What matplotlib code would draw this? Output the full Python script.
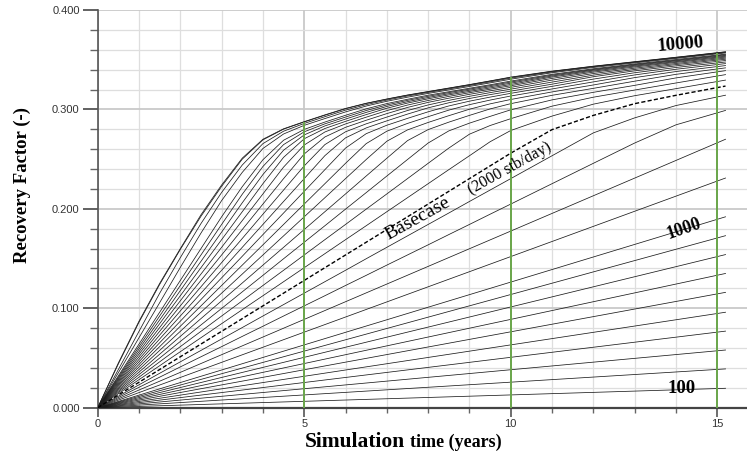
import numpy as np
import matplotlib.pyplot as plt
from matplotlib.ticker import MultipleLocator, FormatStrFormatter

# time grid (years) for the curved family
years = [0, 0.5, 1, 1.5, 2, 2.5, 3, 3.5, 4, 4.5, 5, 5.5, 6, 6.5, 7, 7.5, 8, 8.5, 9, 9.5,
         10, 11, 12, 13, 14, 15.2]

# low rates (stb/day) plot as straight lines: RF at start and at the end of the run
low_rates = [100, 200, 300, 400, 500, 600, 700, 800, 900, 1000, 1200, 1400]
low_years = [0, 15.2]
low_end_rf = [0.0195, 0.039, 0.058, 0.077, 0.096, 0.116, 0.135, 0.154, 0.173, 0.192, 0.231, 0.270]

# recovery factor, one list per rate
rf_1600 = [0, .0102, .0205, .0307, .0410, .0512, .0614, .0717, .0819, .0922, .1024, .1126, .1229, .1331, .1434, .1536, .1638, .1741, .1843, .1946, .2048, .2253, .2458, .2662, .2845, .2990]
rf_1800 = [0, .0115, .0230, .0346, .0461, .0576, .0691, .0806, .0922, .1037, .1152, .1267, .1382, .1498, .1613, .1728, .1843, .1958, .2074, .2189, .2304, .2534, .2764, .2915, .3039, .3143]
rf_2000 = [0, .0128, .0256, .0384, .0512, .0640, .0768, .0896, .1024, .1152, .1280, .1408, .1536, .1664, .1792, .1920, .2048, .2176, .2304, .2432, .2560, .2797, .2940, .3058, .3142, .3235]
rf_2200 = [0, .0141, .0282, .0422, .0563, .0704, .0845, .0986, .1126, .1267, .1408, .1549, .1690, .1830, .1971, .2112, .2253, .2394, .2534, .2675, .2788, .2933, .3053, .3138, .3209, .3295]
rf_2400 = [0, .0154, .0307, .0461, .0614, .0768, .0922, .1075, .1229, .1382, .1536, .1690, .1843, .1997, .2150, .2304, .2458, .2611, .2751, .2838, .2907, .3033, .3123, .3195, .3266, .3350]
rf_2600 = [0, .0166, .0333, .0499, .0666, .0832, .0998, .1165, .1331, .1498, .1664, .1830, .1997, .2163, .2330, .2496, .2662, .2784, .2862, .2930, .2996, .3096, .3172, .3242, .3317, .3390]
rf_2800 = [0, .0179, .0358, .0538, .0717, .0896, .1075, .1254, .1434, .1613, .1792, .1971, .2150, .2330, .2509, .2686, .2797, .2872, .2940, .3005, .3058, .3142, .3212, .3284, .3353, .3418]
rf_3000 = [0, .0192, .0384, .0576, .0768, .0960, .1152, .1344, .1536, .1728, .1920, .2112, .2304, .2496, .2680, .2794, .2869, .2937, .3002, .3056, .3100, .3176, .3246, .3320, .3381, .3441]
rf_3200 = [0, .0205, .0410, .0614, .0819, .1024, .1229, .1434, .1638, .1843, .2048, .2253, .2458, .2656, .2781, .2859, .2927, .2993, .3048, .3094, .3135, .3206, .3277, .3347, .3404, .3461]
rf_3400 = [0, .0218, .0435, .0653, .0870, .1088, .1306, .1523, .1741, .1958, .2176, .2394, .2611, .2756, .2841, .2910, .2976, .3035, .3083, .3124, .3162, .3232, .3305, .3369, .3422, .3477]
rf_3600 = [0, .0230, .0461, .0691, .0922, .1152, .1382, .1613, .1843, .2074, .2304, .2535, .2714, .2814, .2885, .2953, .3016, .3067, .3110, .3149, .3184, .3254, .3329, .3388, .3438, .3492]
rf_3800 = [0, .0243, .0486, .0730, .0973, .1216, .1459, .1702, .1946, .2189, .2432, .2646, .2775, .2855, .2923, .2989, .3045, .3091, .3132, .3169, .3204, .3275, .3345, .3402, .3451, .3505]
rf_4000 = [0, .0256, .0512, .0768, .1024, .1280, .1536, .1792, .2048, .2304, .2552, .2723, .2820, .2891, .2958, .3020, .3071, .3113, .3152, .3187, .3222, .3295, .3361, .3415, .3462, .3516]
rf_4200 = [0, .0269, .0538, .0806, .1075, .1344, .1613, .1882, .2150, .2420, .2642, .2773, .2854, .2922, .2988, .3044, .3090, .3131, .3168, .3203, .3238, .3312, .3375, .3427, .3473, .3526]
rf_4400 = [0, .0282, .0563, .0845, .1126, .1408, .1690, .1971, .2253, .2518, .2705, .2808, .2880, .2948, .3012, .3064, .3107, .3146, .3181, .3216, .3251, .3326, .3386, .3436, .3481, .3535]
rf_4600 = [0, .0294, .0589, .0883, .1178, .1472, .1766, .2061, .2345, .2590, .2744, .2834, .2903, .2970, .3030, .3078, .3120, .3158, .3193, .3228, .3264, .3336, .3395, .3444, .3489, .3543]
rf_4800 = [0, .0307, .0614, .0922, .1229, .1536, .1843, .2147, .2426, .2646, .2775, .2855, .2923, .2989, .3045, .3091, .3132, .3169, .3204, .3239, .3275, .3345, .3402, .3451, .3495, .3550]
rf_5000 = [0, .0320, .0640, .0960, .1280, .1600, .1920, .2223, .2494, .2690, .2799, .2873, .2941, .3006, .3059, .3102, .3143, .3178, .3213, .3248, .3285, .3353, .3409, .3457, .3502, .3556]
rf_5500 = [0, .0352, .0704, .1056, .1411, .1756, .2083, .2367, .2607, .2753, .2840, .2908, .2975, .3034, .3082, .3123, .3161, .3196, .3231, .3267, .3304, .3369, .3422, .3468, .3513, .3568]
rf_6000 = [0, .0384, .0768, .1151, .1509, .1852, .2165, .2441, .2656, .2781, .2859, .2927, .2993, .3048, .3094, .3135, .3171, .3206, .3241, .3277, .3315, .3377, .3429, .3475, .3518, .3574]
rf_7000 = [0, .0440, .0860, .1240, .1592, .1925, .2226, .2500, .2694, .2802, .2874, .2942, .3007, .3060, .3103, .3143, .3178, .3213, .3248, .3285, .3322, .3383, .3433, .3478, .3523, .3578]
rf_10000 = [0, .0450, .0870, .1250, .1600, .1940, .2240, .2510, .2700, .2805, .2877, .2945, .3010, .3062, .3105, .3145, .3180, .3215, .3250, .3287, .3325, .3385, .3435, .3480, .3525, .3580]

curves = [rf_1600, rf_1800, rf_2200, rf_2400, rf_2600, rf_2800, rf_3000, rf_3200,
          rf_3400, rf_3600, rf_3800, rf_4000, rf_4200, rf_4400, rf_4600, rf_4800,
          rf_5000, rf_5500, rf_6000, rf_7000, rf_10000]
basecase = rf_2000

# years where the green markers are dropped from the top curve
marker_years = [5, 10, 15]

serif = 'Liberation Serif'
sans = 'Liberation Sans'
line_col = '#1c1c1c'
green = '#6aa64a'

fig = plt.figure(figsize=(7.47, 4.55), dpi=100)
ax = fig.add_axes([0.1308, 0.104, 0.8692, 0.874])

for end in low_end_rf:
    ax.plot(low_years, [0.0, end], color=line_col, lw=0.55, zorder=3)
for rf in curves:
    ax.plot(years, rf, color=line_col, lw=0.55, zorder=3)
ax.plot(years, basecase, color='black', lw=1.0, dashes=(3, 1.6), zorder=4)

top_vals = np.interp(marker_years, years, rf_10000)
ax.vlines(marker_years, 0, top_vals, color=green, lw=1.4, zorder=5)

ax.set_xlim(0, 15.72)
ax.set_ylim(0, 0.4)
ax.xaxis.set_major_locator(MultipleLocator(5))
ax.xaxis.set_minor_locator(MultipleLocator(1))
ax.yaxis.set_major_locator(MultipleLocator(0.1))
ax.yaxis.set_minor_locator(MultipleLocator(0.02))
ax.yaxis.set_major_formatter(FormatStrFormatter('%.3f'))

ax.set_axisbelow(True)
ax.grid(which='minor', color='#dedede', lw=0.9)
ax.grid(which='major', color='#c9c9c9', lw=1.3)

for s in ['top', 'right']:
    ax.spines[s].set_visible(False)
ax.spines['left'].set_color('#555555')
ax.spines['left'].set_linewidth(1.2)
ax.spines['bottom'].set_color('#444444')
ax.spines['bottom'].set_linewidth(1.6)

ax.tick_params(axis='y', which='major', length=11, width=1.3, color='#555555', pad=2,
               labelsize=8, labelcolor='#333333')
ax.tick_params(axis='y', which='minor', length=6, width=1.0, color='#666666')
ax.tick_params(axis='x', which='major', length=6.5, width=1.2, color='#555555', pad=1.5,
               labelsize=8, labelcolor='#333333')
ax.tick_params(axis='x', which='minor', length=3.5, width=1.0, color='#666666')
for lab in ax.get_xticklabels() + ax.get_yticklabels():
    lab.set_family(sans)

# curve annotations
ax.text(14.1, 0.3658, '10000', fontsize=13.5, fontweight='bold', family=serif,
        rotation=5, ha='center', va='center', zorder=6)
ax.text(14.19, 0.1795, '1000', fontsize=13, fontweight='bold', family=serif,
        rotation=19, ha='center', va='center', zorder=6)
ax.text(14.14, 0.0188, '100', fontsize=13.5, fontweight='bold', family=serif,
        ha='center', va='center', zorder=6)
ax.text(7.75, 0.19, 'Basecase', fontsize=14, family=serif,
        rotation=29, ha='center', va='center', zorder=6)
ax.text(9.98, 0.2408, '(2000 stb/day)', fontsize=11.5, family=serif,
        rotation=29, ha='center', va='center', zorder=6)

# axis titles
fig.text(22 / 747, 1 - 185 / 455, 'Recovery Factor (-)', fontsize=13.5, fontweight='bold',
         family=serif, rotation=90, ha='center', va='center')
fig.text(405 / 747, 1 - 447 / 455, 'Simulation', fontsize=15.5, fontweight='bold',
         family=serif, ha='right', va='baseline')
fig.text(410 / 747, 1 - 447 / 455, 'time (years)', fontsize=13, fontweight='bold',
         family=serif, ha='left', va='baseline')

fig.savefig('out.png', dpi=100)
